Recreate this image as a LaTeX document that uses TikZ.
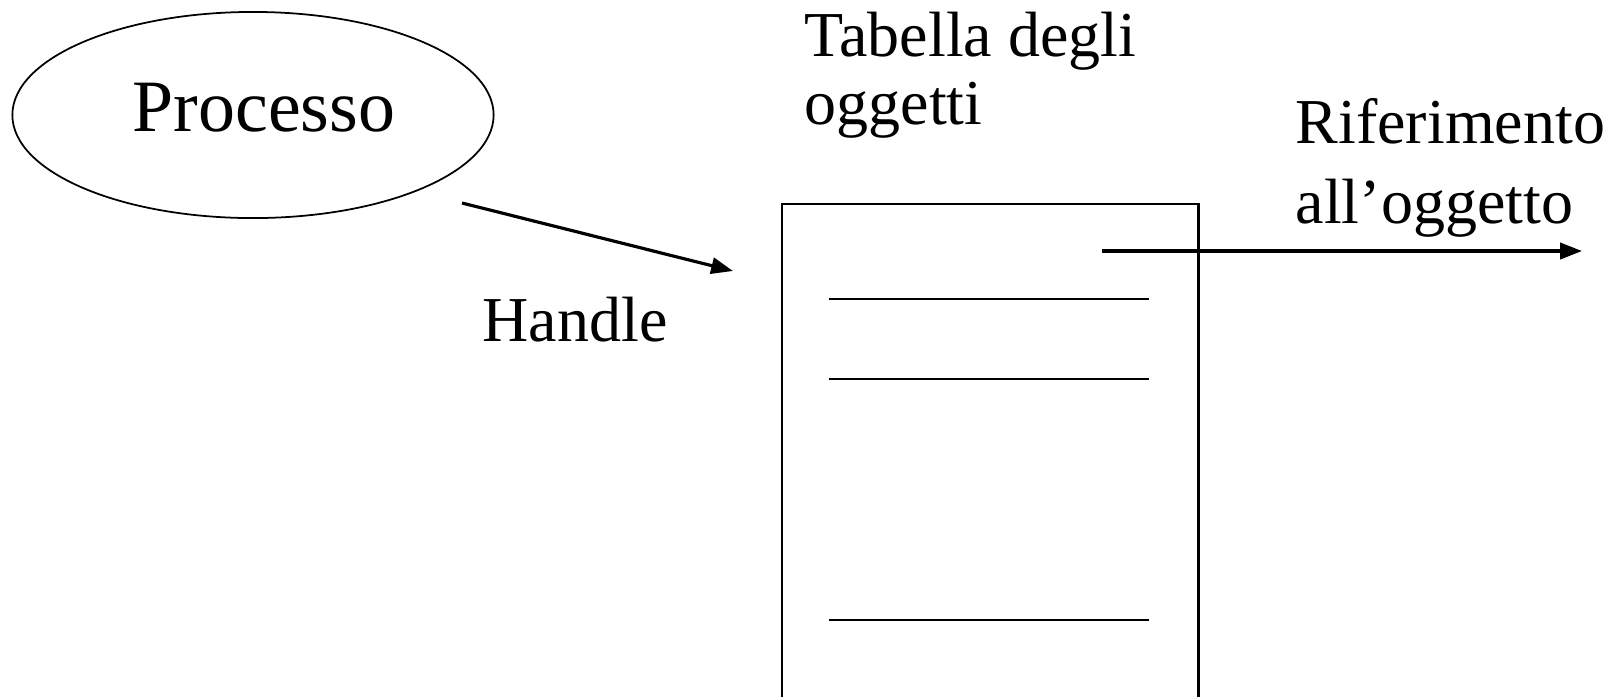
\documentclass[tikz,border=0pt]{standalone}
\usepackage{fontspec}
\setmainfont{Liberation Serif}
\usetikzlibrary{arrows.meta, shapes.geometric}

\tikzset{
	lbl/.style={inner sep=0pt, anchor=base west, font=\fontsize{18.2}{21.5}\selectfont},
	freccia/.style={line width=0.9pt, -{Triangle[length=6.2pt,width=4.6pt]}},
	riga/.style={line width=0.7pt},
}

\begin{document}
\begin{tikzpicture}[x=0.01cm, y=-0.01cm]
	\useasboundingbox (0,0) rectangle (1605,696);
	\clip (0,0) rectangle (1605,696);
	\node [ellipse, draw, line width=0.5pt, inner sep=0pt, minimum width=4.81cm, minimum height=2.06cm] (proc) at (253,115) {};
	\node [inner sep=0pt, anchor=base, font=\fontsize{21}{24}\selectfont] (proctxt) at (264,131) {Processo};
	\node [draw, line width=0.7pt, anchor=north west, minimum width=4.16cm, minimum height=6cm] (tab) at (781,203) {};
	\foreach \y in {299,379,620}
		\draw [riga] (829,\y) -- (1149,\y);
	% etichette
	\node [lbl] (tab1) at (804,56) {Tabella degli};
	\node [lbl] (tab2) at (804,124) {oggetti};
	\node [lbl] (rif1) at (1295,143) {Riferimento};
	\node [lbl] (rif2) at (1295,223) {all’oggetto};
	\node [lbl] (hdl) at (482,341) {Handle};
	% frecce
	\coordinate (hA) at (462,203);
	\coordinate (hB) at (733,271);
	\coordinate (rA) at (1102,251);
	\coordinate (rB) at (1582,251);
	\draw [freccia] (hA) -- (hB);
	\draw [freccia] (rA) -- (rB);
\end{tikzpicture}
\end{document}
